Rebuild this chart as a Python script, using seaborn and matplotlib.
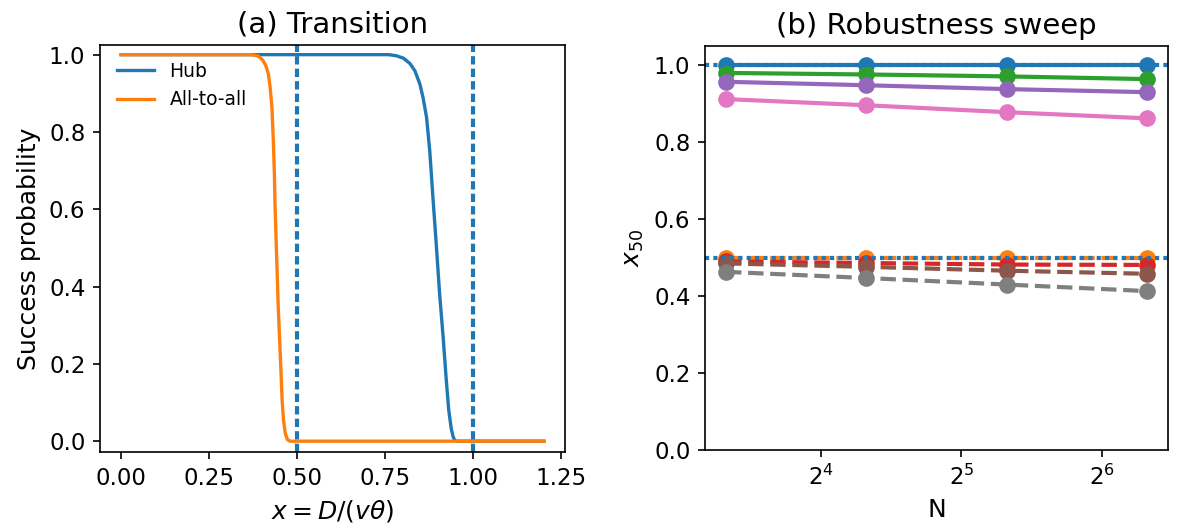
import numpy as np
import pandas as pd
import matplotlib
matplotlib.use("Agg")
import matplotlib.pyplot as plt
import seaborn as sns

# ---- Panel (a): success probability curves ----
hub_x = [0.0, 0.60, 0.760, 0.782, 0.801, 0.820, 0.834, 0.848, 0.857, 0.867, 0.876,
         0.885, 0.895, 0.904, 0.914, 0.923, 0.930, 0.937, 0.942, 0.946, 0.951, 1.2]
hub_y = [1.0, 1.0, 1.0, 0.997, 0.991, 0.977, 0.958, 0.924, 0.889, 0.838, 0.752,
         0.632, 0.503, 0.382, 0.270, 0.158, 0.080, 0.033, 0.013, 0.004, 0.0, 0.0]
a2a_x = [0.0, 0.30, 0.369, 0.388, 0.402, 0.411, 0.418, 0.423, 0.428, 0.432, 0.435,
         0.437, 0.440, 0.443, 0.446, 0.450, 0.454, 0.457, 0.461, 0.466, 0.472, 0.480, 1.2]
a2a_y = [1.0, 1.0, 1.0, 0.997, 0.986, 0.971, 0.950, 0.915, 0.864, 0.778, 0.692,
         0.606, 0.519, 0.433, 0.347, 0.261, 0.175, 0.106, 0.054, 0.020, 0.004, 0.0, 0.0]
vlines_a = [0.5, 1.0]

# ---- Panel (b): robustness sweep ----
N_vals = [10, 20, 40, 80]
hub_series = {
    "C0": [1.0, 1.0, 1.0, 1.0],
    "C2": [0.980, 0.976, 0.971, 0.964],
    "C4": [0.957, 0.948, 0.938, 0.930],
    "C6": [0.912, 0.896, 0.878, 0.862],
}
a2a_series = {
    "C1": [0.500, 0.500, 0.500, 0.500],
    "C3": [0.490, 0.486, 0.482, 0.481],
    "C5": [0.485, 0.476, 0.466, 0.458],
    "C7": [0.463, 0.447, 0.430, 0.413],
}
hlines_b = [1.0, 0.5]

W, H = 1180, 526
fig = plt.figure(figsize=(W / 150, H / 150), dpi=150)
ax1 = fig.add_axes([100 / W, 1 - 452 / H, 465 / W, 407 / H])
ax2 = fig.add_axes([705 / W, 1 - 450 / H, 463 / W, 404 / H])

# Panel (a)
sns.lineplot(x=hub_x, y=hub_y, ax=ax1, color="C0", lw=1.6, label="Hub", sort=False)
sns.lineplot(x=a2a_x, y=a2a_y, ax=ax1, color="C1", lw=1.6, label="All-to-all", sort=False)
for v in vlines_a:
    ax1.axvline(v, color="C0", lw=2, ls=(0, (2, 1)))
ax1.set_ylim(-0.028, 1.025)
ax1.set_xticks([0.0, 0.25, 0.5, 0.75, 1.0, 1.25])
ax1.set_title("(a) Transition", fontsize=14)
ax1.set_xlabel(r"$x = D/(v\theta)$", fontsize=12)
ax1.set_ylabel("Success probability", fontsize=12)
ax1.tick_params(labelsize=11)
ax1.legend(loc="upper left", frameon=False, fontsize=9, bbox_to_anchor=(0.0, 1.0))

# Panel (b)
for c, vals in hub_series.items():
    sns.lineplot(x=N_vals, y=vals, ax=ax2, color=c, marker="o", markersize=8,
                 markeredgewidth=0, lw=2)
for c, vals in a2a_series.items():
    sns.lineplot(x=N_vals, y=vals, ax=ax2, color=c, marker="o", markersize=8,
                 markeredgewidth=0, lw=2, linestyle="--")
for h in hlines_b:
    ax2.axhline(h, color="C0", lw=2, ls=(0, (1, 1)))
ax2.set_xscale("log", base=2)
ax2.set_ylim(0, 1.05)
ax2.set_yticks([0.0, 0.2, 0.4, 0.6, 0.8, 1.0])
ax2.set_title("(b) Robustness sweep", fontsize=14)
ax2.set_xlabel("N", fontsize=12)
ax2.set_ylabel(r"$x_{50}$", fontsize=12)
ax2.tick_params(labelsize=11)

fig.savefig("out.png", dpi=150)
